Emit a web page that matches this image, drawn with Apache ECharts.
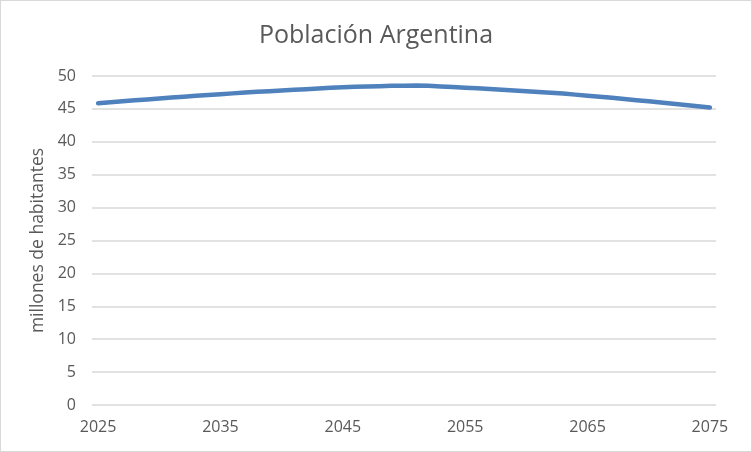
<!DOCTYPE html>
<html lang="es">
<head>
    <meta charset="UTF-8">
    <title>Población Argentina</title>
    <style>
        html, body {
            margin: 0;
            padding: 0;
            background: #ffffff;
        }
        #main {
            width: 750px;
            height: 450px;
            border: 1px solid #d9d9d9;
        }
    </style>
    <script type="text/javascript" src="https://cdn.jsdelivr.net/npm/echarts@6/dist/echarts.min.js"></script>
</head>
<body>
<div id="main"></div>
<script type="text/javascript">
    // años 2025..2075
    var years = [];
    for (var y = 2025; y <= 2075; y++) {
        years.push(String(y));
    }
    // millones de habitantes
    var poblacion = [45.85, 46.0, 46.15, 46.3, 46.44, 46.58, 46.72, 46.86, 46.99, 47.12,
        47.24, 47.36, 47.48, 47.59, 47.7, 47.8, 47.9, 48.0, 48.1, 48.2,
        48.28, 48.35, 48.41, 48.46, 48.5, 48.53, 48.54, 48.5, 48.42, 48.32,
        48.22, 48.12, 48.02, 47.9, 47.78, 47.67, 47.56, 47.46, 47.33, 47.17,
        47.0, 46.85, 46.68, 46.5, 46.33, 46.16, 45.98, 45.8, 45.6, 45.4,
        45.2];
    var yMin = 0, yMax = 50, yStep = 5;

    var chart = echarts.init(document.getElementById('main'));
    var option = {
        animation: false,
        textStyle: {fontFamily: 'Open Sans'},
        title: {
            text: 'Población Argentina',
            left: 'center',
            top: 17,
            textStyle: {
                color: '#595959',
                fontSize: 25,
                fontWeight: 'normal',
                fontFamily: 'Open Sans'
            }
        },
        grid: {
            left: 91,
            right: 35,
            top: 75,
            bottom: 46
        },
        xAxis: {
            type: 'category',
            data: years,
            boundaryGap: true,
            axisLine: {show: false},
            axisTick: {show: false},
            axisLabel: {
                interval: 9,
                color: '#595959',
                fontSize: 16,
                margin: 14
            }
        },
        yAxis: {
            type: 'value',
            min: yMin,
            max: yMax,
            interval: yStep,
            name: 'millones de habitantes',
            nameLocation: 'middle',
            nameGap: 41,
            nameTextStyle: {
                color: '#595959',
                fontSize: 17.5
            },
            axisLine: {show: false},
            axisTick: {show: false},
            axisLabel: {
                color: '#595959',
                fontSize: 16,
                margin: 16
            },
            splitLine: {
                lineStyle: {color: '#d9d9d9', width: 1.5}
            }
        },
        series: [{
            name: 'Población',
            type: 'line',
            data: poblacion,
            symbol: 'none',
            smooth: false,
            lineStyle: {
                color: '#4f81bd',
                width: 4.5,
                cap: 'round',
                join: 'round'
            }
        }]
    };
    chart.setOption(option);
</script>
</body>
</html>
